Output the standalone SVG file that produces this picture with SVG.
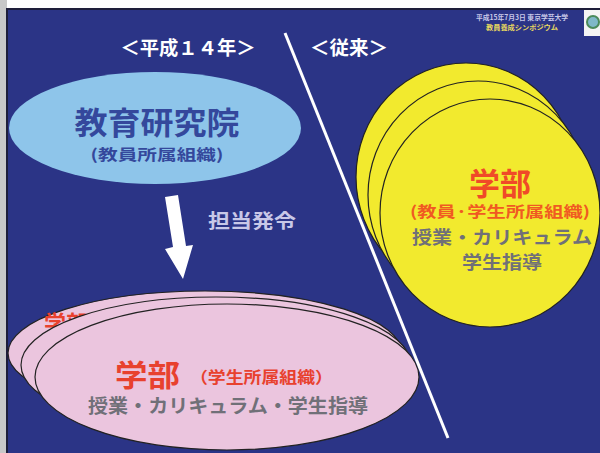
<svg xmlns="http://www.w3.org/2000/svg" width="600" height="453" viewBox="0 0 600 453">
<style>
.jp{font-family:"Noto Sans CJK JP","Noto Sans CJK SC",sans-serif;font-weight:bold}
.ell{stroke:#222;stroke-width:1.2}
.pink{fill:#EBC5DE}
.yel{fill:#F2EA2E}
.gray{fill:#707078}
</style>
<rect x="0" y="0" width="600" height="453" fill="#FFFFFF"/>
<rect x="0" y="0" width="7" height="453" fill="#C8C8C8"/>
<rect x="6" y="8" width="594" height="445" fill="#1E1E3A"/>
<rect x="8" y="10" width="592" height="443" fill="#2B3486"/>

<g id="header-note">
<text class="jp" x="522" y="20" font-size="7" fill="#C8C8E8" text-anchor="middle" textLength="92" lengthAdjust="spacingAndGlyphs">平成15年7月3日 東京学芸大学</text>
<text class="jp" x="522" y="30" font-size="7" fill="#E8D860" text-anchor="middle" textLength="72" lengthAdjust="spacingAndGlyphs">教員養成シンポジウム</text>
<rect x="584" y="10" width="16" height="26" fill="#F4F4F4"/>
<circle cx="593" cy="22" r="6" fill="#7FB8C8" stroke="#4A8A5A" stroke-width="2"/>
</g>

<g id="titles">
<text class="jp" x="188" y="55" font-size="19" fill="#FFFFFF" text-anchor="middle" textLength="135" lengthAdjust="spacingAndGlyphs">＜平成１４年＞</text>
<text class="jp" x="349" y="55" font-size="19" fill="#FFFFFF" text-anchor="middle" textLength="78" lengthAdjust="spacingAndGlyphs">＜従来＞</text>
</g>

<g id="gakubu-old">
<ellipse class="ell yel" cx="466" cy="177" rx="110" ry="114"/>
<ellipse class="ell yel" cx="478" cy="195" rx="110" ry="114"/>
<ellipse class="ell yel" cx="490" cy="213" rx="110" ry="114"/>
<text class="jp" x="500" y="195" font-size="31" fill="#F04A28" text-anchor="middle">学部</text>
<text class="jp" x="500" y="217" font-size="15" fill="#F05A22" text-anchor="middle" textLength="180" lengthAdjust="spacingAndGlyphs">(教員·学生所属組織)</text>
<text class="jp gray" x="502" y="244" font-size="18" text-anchor="middle" textLength="180" lengthAdjust="spacingAndGlyphs">授業・カリキュラム</text>
<text class="jp gray" x="502" y="269" font-size="18" text-anchor="middle" textLength="80" lengthAdjust="spacingAndGlyphs">学生指導</text>
</g>

<g id="kyoiku-kenkyuin">
<ellipse cx="155" cy="128" rx="146" ry="56" fill="#8EC5EA"/>
<text class="jp" x="157" y="134" font-size="31" fill="#34489C" text-anchor="middle" textLength="165" lengthAdjust="spacingAndGlyphs">教育研究院</text>
<text class="jp" x="157" y="160" font-size="15" fill="#34489C" text-anchor="middle" textLength="133" lengthAdjust="spacingAndGlyphs">(教員所属組織)</text>
</g>

<g id="gakubu-new">
<ellipse class="ell pink" cx="205" cy="353" rx="197" ry="62"/>
<text class="jp" x="44" y="331" font-size="22" fill="#E8412E">学部</text>
<ellipse class="ell pink" cx="216" cy="365" rx="195" ry="68"/>
<ellipse class="ell pink" cx="227" cy="377" rx="192" ry="73"/>
<text class="jp" x="115" y="386" font-size="30" fill="#E8412E" textLength="65" lengthAdjust="spacingAndGlyphs">学部</text>
<text class="jp" x="190" y="383" font-size="16" fill="#E8412E" textLength="143" lengthAdjust="spacingAndGlyphs">（学生所属組織）</text>
<text class="jp gray" x="88" y="413" font-size="19" textLength="280" lengthAdjust="spacingAndGlyphs">授業・カリキュラム・学生指導</text>
</g>

<g id="connectors">
<line x1="285" y1="33" x2="448" y2="438" stroke="#FFFFFF" stroke-width="3"/>
<polygon points="165,197 178,195 186,246 193,245 183,279 165,249 173,247" fill="#FFFFFF"/>
<text class="jp" x="252" y="228" font-size="19" fill="#C8C8E8" text-anchor="middle" textLength="88" lengthAdjust="spacingAndGlyphs">担当発令</text>
</g>
</svg>
